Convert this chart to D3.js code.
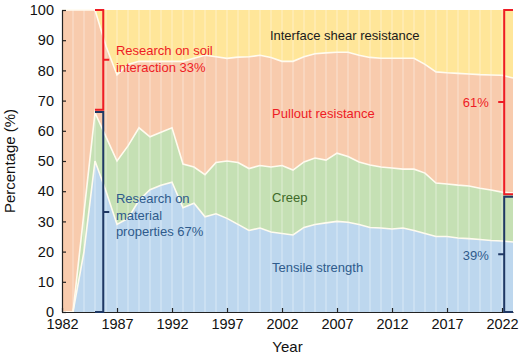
<!DOCTYPE html>
<html>
<head>
<meta charset="utf-8">
<script src="https://cdn.jsdelivr.net/npm/d3@7"></script>
<style>
  body { margin: 0; background: #fff; }
  svg { font-family: "Liberation Sans", Arial, sans-serif; }
</style>
</head>
<body>
<svg id="chart" width="520" height="358"></svg>
<script>
const years = d3.range(1982, 2024);

// share of papers per topic (%), one value per year
const tensile = [0, 0, 20, 50, 40, 29, 31, 37, 40.5, 42, 43, 34.5, 36, 31.5, 32.5, 31, 29, 27, 27.8, 26.5,
  26, 25.5, 28, 29, 29.5, 30, 29.7, 29, 28, 27.8, 27.5, 27.8, 27, 26, 25, 25, 24.5, 24.3, 24, 23.7, 23.5, 23.2];
const creep = [0, 0, 13, 16, 18, 21, 24, 24, 17.5, 17.5, 18, 14.5, 12, 14, 17, 19, 20.5, 20.5, 20.7, 21.5,
  22.5, 21.5, 21.7, 22, 20.8, 22.6, 21.8, 20.7, 20.7, 20.2, 20.2, 19.5, 20.3, 20, 17.7, 17.4, 17.5, 17.4, 17, 16.7, 16.2, 16.2];
const pullout = [100, 100, 67, 34, 30, 28.5, 27, 22, 25, 23.5, 22, 34, 36, 39.5, 35, 34, 34.9, 37, 36.5, 36.3,
  34.5, 36, 34.8, 34.5, 35.5, 33.4, 34.5, 35.3, 35.6, 36, 36.3, 36.7, 36.7, 36, 36.8, 36.8, 37, 37.1, 37.6, 38.1, 38.7, 38.1];
const interfaceShear = [0, 0, 0, 0, 12, 21.5, 18, 17, 17, 17, 17, 17, 16, 15, 15.5, 16, 15.6, 15.5, 15, 15.7,
  17, 17, 15.5, 14.5, 14.2, 14, 14, 15, 15.7, 16, 16, 16, 16, 18, 20.5, 20.8, 21, 21.2, 21.4, 21.5, 21.6, 22.5];

const seriesNames = ["Tensile strength", "Creep", "Pullout resistance", "Interface shear resistance"];
const fills = ["#bdd7ee", "#c5e0b4", "#f8cbad", "#ffe699"];

const xTicks = [1982, 1987, 1992, 1997, 2002, 2007, 2012, 2017, 2022];
const yTicks = [0, 10, 20, 30, 40, 50, 60, 70, 80, 90, 100];

// bracket annotations
const soilShare = 33, materialShare = 67;
const share2022 = [61, 39];

const red = "#ee1c25";
const blueText = "#2f5b8c";
const navy = "#1f3864";

const rows = years.map((y, i) => ({
  year: y, t: tensile[i], c: creep[i], p: pullout[i], s: interfaceShear[i]
}));
const stack = d3.stack().keys(["t", "c", "p", "s"]);
const layers = stack(rows);

const x = d3.scaleLinear([1982, 2023], [62, 513]);
const y = d3.scaleLinear([0, 100], [312, 10]);

const svg = d3.select("#chart");

const area = d3.area()
  .x(d => x(d.data.year))
  .y0(d => y(d[0]))
  .y1(d => y(d[1]));

svg.selectAll(".layer")
  .data(layers)
  .enter()
  .append("path")
  .attr("class", "layer")
  .attr("d", area)
  .attr("fill", (d, i) => fills[i]);

// light year separators
svg.selectAll(".yearline")
  .data(years.slice(1, -1))
  .enter()
  .append("line")
  .attr("x1", d => x(d))
  .attr("x2", d => x(d))
  .attr("y1", y(0))
  .attr("y2", y(100))
  .attr("stroke", "#fff")
  .attr("stroke-opacity", 0.45)
  .attr("stroke-width", 1);

const edge = d3.line()
  .x(d => x(d.data.year))
  .y(d => y(d[1]));

svg.selectAll(".edge")
  .data(layers.slice(0, 3))
  .enter()
  .append("path")
  .attr("d", edge)
  .attr("fill", "none")
  .attr("stroke", "#fffbef")
  .attr("stroke-width", 1.6);

// axes
const yAxis = d3.axisLeft(y).tickValues(yTicks).tickSizeInner(-4).tickSizeOuter(0).tickPadding(8);
const xAxis = d3.axisBottom(x).tickValues(xTicks).tickFormat(d3.format("d"))
  .tickSizeInner(-4).tickSizeOuter(0).tickPadding(7);

const gy = svg.append("g").attr("transform", `translate(${x(1982)},0)`).call(yAxis);
const gx = svg.append("g").attr("transform", `translate(0,${y(0)})`).call(xAxis);
[gy, gx].forEach(g => {
  g.selectAll("path, line").attr("stroke", "#222").attr("stroke-width", 1.2);
  g.selectAll("text").attr("font-size", "14.5px").attr("fill", "#111")
    .attr("font-family", "'Liberation Sans', Arial, sans-serif");
});

svg.append("text")
  .attr("transform", `translate(15,${y(50)}) rotate(-90)`)
  .attr("text-anchor", "middle")
  .attr("font-size", "15px")
  .attr("fill", "#111")
  .text("Percentage (%)");

svg.append("text")
  .attr("x", (x(1982) + x(2023)) / 2)
  .attr("y", 352)
  .attr("text-anchor", "middle")
  .attr("font-size", "15px")
  .attr("fill", "#111")
  .text("Year");

// series labels
const labels = [
  { text: seriesNames[3], yr: 2000.9, v: 91.7, color: "#1a1a1a" },
  { text: seriesNames[2], yr: 2001.1, v: 65.9, color: red },
  { text: seriesNames[1], yr: 2001.1, v: 38, color: "#3f6a2a" },
  { text: seriesNames[0], yr: 2001.1, v: 14.9, color: blueText }
];
svg.selectAll(".lab")
  .data(labels)
  .enter()
  .append("text")
  .attr("x", d => x(d.yr))
  .attr("y", d => y(d.v))
  .attr("dy", "0.35em")
  .attr("font-size", "13px")
  .attr("fill", d => d.color)
  .text(d => d.text);

function bracket(xv, vTop, vBot, armTo, tickDir, color) {
  const xa = x(xv), xe = x(armTo);
  const y0 = y(vTop), y1 = y(vBot), ym = (y0 + y1) / 2;
  svg.append("path")
    .attr("d", `M${xe},${y0}H${xa}V${y1}H${xe}M${xa},${ym}h${tickDir * 6}`)
    .attr("fill", "none")
    .attr("stroke", color)
    .attr("stroke-width", 2);
  return ym;
}

bracket(1985.75, 100, 100 - soilShare, 1985, 1, red);
bracket(1985.75, materialShare - 0.8, 0, 1985, 1, navy);
const ymR = bracket(2022.2, 100, share2022[1], 2023, -1, red);
const ymB = bracket(2022.2, share2022[1] - 0.8, 0, 2023, -1, navy);

function block(lines, xp, yp, color, anchor) {
  const t = svg.append("text")
    .attr("x", xp)
    .attr("y", yp)
    .attr("font-size", "13px")
    .attr("fill", color)
    .attr("text-anchor", anchor || "start");
  lines.forEach((l, i) => {
    t.append("tspan").attr("x", xp).attr("dy", i ? "1.27em" : "0.35em").text(l);
  });
}

block(["Research on soil", `interaction ${soilShare}%`], x(1986.9), y(86.5), red);
block(["Research on", "material", `properties ${materialShare}%`], x(1986.9), y(37.5), blueText);
block([`${share2022[0]}%`], x(2020.8), ymR, red, "end");
block([`${share2022[1]}%`], x(2020.8), ymB + 1, blueText, "end");
</script>
</body>
</html>
